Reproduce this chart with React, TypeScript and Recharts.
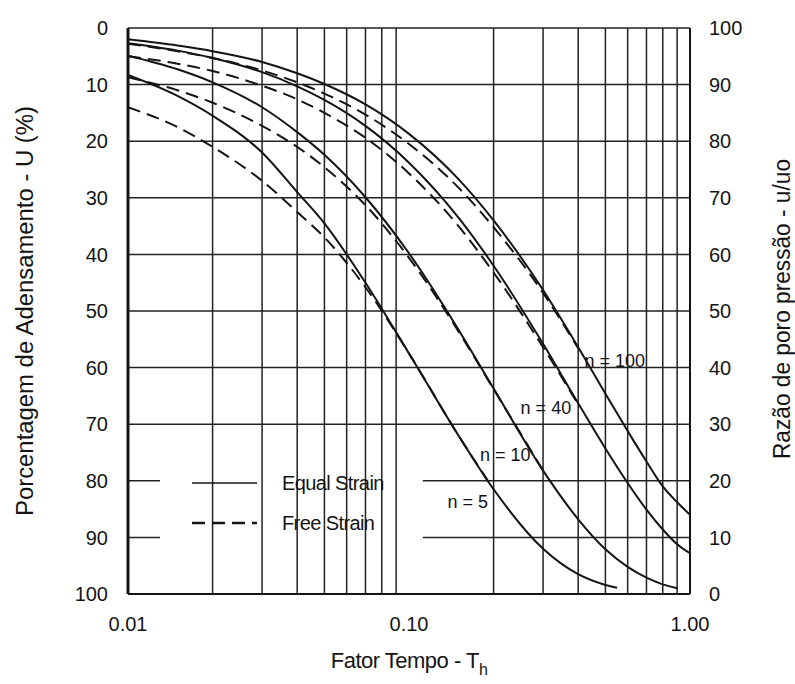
import React from "react";
import {
  LineChart,
  Line,
  XAxis,
  YAxis,
  CartesianGrid,
  ReferenceLine,
  ReferenceArea,
  ReferenceDot,
  Legend,
} from "recharts";

// time factor Th (log axis)
const TIME = [0.01, 0.015, 0.02, 0.03, 0.04, 0.05, 0.07, 0.1, 0.15, 0.2, 0.3, 0.4, 0.5, 0.6, 0.7, 0.8, 0.9, 1.0];
const TIME_N5 = [0.01, 0.015, 0.02, 0.03, 0.04, 0.05, 0.07, 0.1, 0.15, 0.2, 0.3, 0.4, 0.5, 0.55];

// degree of consolidation U (%)
const equalN100 = [2, 3.1, 4.1, 6.0, 8.0, 9.9, 13.5, 18.7, 26.7, 34, 46.3, 56.4, 64.6, 71.2, 76.6, 81, 83.8, 86];
const equalN40 = [2.7, 4.0, 5.3, 7.8, 10.3, 12.7, 17.3, 23.8, 33.5, 42, 55.8, 66.3, 74.3, 80.4, 85.1, 88.6, 91.2, 92.8];
const equalN10 = [4.9, 7.3, 9.6, 14, 18.4, 22.4, 29.9, 39.8, 53.3, 63.7, 78.2, 86.8, 92.1, 95.2, 97.1, 98.3, 99];
const equalN5 = [8.3, 12, 15.5, 22, 29, 34.5, 45, 57.5, 72, 81.5, 92, 96.5, 98.4, 98.9];

const freeN100 = [2.8, 4.1, 5.3, 7.5, 9.6, 11.6, 15.3, 20.5, 28.2, 35.2, 46.8, 56.6];
const freeN40 = [5, 6.3, 7.6, 10.2, 12.6, 15, 19.4, 25.7, 35, 43.2, 56.4, 66.5];
const freeN10 = [8.7, 11, 13.2, 17.3, 21, 24.6, 31.3, 40.6, 53.6, 63.8, 78.2];
const freeN5 = [14, 17.5, 21, 27, 32.5, 37, 45.8, 57.5, 72, 81.5];

const X_TICKS = [0.01, 0.1, 1];
const X_GRID = [0.02, 0.03, 0.04, 0.05, 0.06, 0.07, 0.08, 0.09, 0.2, 0.3, 0.4, 0.5, 0.6, 0.7, 0.8, 0.9];
const Y_TICKS = [0, 10, 20, 30, 40, 50, 60, 70, 80, 90, 100];

const CURVE_LABELS = [
  { text: "n = 100", t: 0.54, u: 58.7 },
  { text: "n = 40", t: 0.307, u: 67.1 },
  { text: "n = 10", t: 0.22, u: 75.4 },
  { text: "n = 5", t: 0.162, u: 83.7 },
];

const LEGEND_ITEMS = [
  { label: "Equal Strain", dashed: false },
  { label: "Free Strain", dashed: true },
];

const toPoints = (times: number[], values: number[]) =>
  values.map((u, i) => ({ t: times[i], u }));

const SERIES = [
  { id: "eq100", data: toPoints(TIME, equalN100), dashed: false },
  { id: "eq40", data: toPoints(TIME, equalN40), dashed: false },
  { id: "eq10", data: toPoints(TIME, equalN10), dashed: false },
  { id: "eq5", data: toPoints(TIME_N5, equalN5), dashed: false },
  { id: "fr100", data: toPoints(TIME, freeN100), dashed: true },
  { id: "fr40", data: toPoints(TIME, freeN40), dashed: true },
  { id: "fr10", data: toPoints(TIME, freeN10), dashed: true },
  { id: "fr5", data: toPoints(TIME_N5, freeN5), dashed: true },
];

const INK = "#141414";
const FONT = "'Liberation Sans', Arial, sans-serif";
const DASH = "13 7";

function LegendBox() {
  return (
    <svg width={240} height={72} style={{ display: "block" }}>
      {LEGEND_ITEMS.map((it, i) => {
        const y = 17 + i * 40;
        return (
          <g key={it.label}>
            <line
              x1={7}
              x2={72}
              y1={y}
              y2={y}
              stroke={INK}
              strokeWidth={it.dashed ? 2.5 : 1.5}
              strokeDasharray={it.dashed ? DASH : undefined}
            />
            <text x={97} y={y + 7} fontSize={20} fontFamily={FONT} fill={INK} letterSpacing={-0.6}>
              {it.label}
            </text>
          </g>
        );
      })}
    </svg>
  );
}

function XTitle(props: any) {
  const vb = props.viewBox || {};
  const cx = vb.x + vb.width / 2;
  return (
    <text x={cx} y={vb.y + 74} textAnchor="middle" fontSize={22} fontFamily={FONT} fill={INK} letterSpacing={-0.5}>
      Fator Tempo - T
      <tspan dy={7} fontSize={16}>h</tspan>
    </text>
  );
}

function LeftTitle(props: any) {
  const vb = props.viewBox || {};
  const cy = vb.y + vb.height / 2;
  const x = 33;
  return (
    <text
      x={x}
      y={cy}
      transform={`rotate(-90 ${x} ${cy})`}
      textAnchor="middle"
      fontSize={23}
      fontFamily={FONT}
      fill={INK}
      textLength={410}
      lengthAdjust="spacingAndGlyphs"
    >
      Porcentagem de Adensamento - U (%)
    </text>
  );
}

function RightTitle(props: any) {
  const vb = props.viewBox || {};
  const cy = vb.y + vb.height / 2 - 2;
  const x = 790;
  return (
    <text
      x={x}
      y={cy}
      transform={`rotate(-90 ${x} ${cy})`}
      textAnchor="middle"
      fontSize={23}
      fontFamily={FONT}
      fill={INK}
      textLength={300}
      lengthAdjust="spacingAndGlyphs"
    >
      Razão de poro pressão - u/uo
    </text>
  );
}

export default function App() {
  const tickStyle = { fontSize: 20, fill: INK, fontFamily: FONT };
  return (
    <div style={{ position: "absolute", left: 0, top: 0, background: "#fff" }}>
      <LineChart width={795} height={684} margin={{ top: 28, right: 0, bottom: 0, left: 0 }}>
        <CartesianGrid yAxisId="left" vertical={false} stroke="#222" strokeWidth={1.5} />
        <XAxis
          dataKey="t"
          type="number"
          scale="log"
          domain={[0.01, 1]}
          ticks={X_TICKS}
          allowDataOverflow
          tickFormatter={(v: number) => v.toFixed(2)}
          tick={tickStyle}
          tickLine={false}
          tickSize={0}
          tickMargin={23}
          height={90}
          axisLine={{ stroke: INK, strokeWidth: 2 }}
          label={<XTitle />}
        />
        <YAxis
          yAxisId="left"
          type="number"
          domain={[0, 100]}
          reversed
          ticks={Y_TICKS}
          allowDataOverflow
          tick={tickStyle}
          tickLine={false}
          tickSize={0}
          tickMargin={20}
          width={128}
          axisLine={{ stroke: INK, strokeWidth: 3 }}
          label={<LeftTitle />}
        />
        <YAxis
          yAxisId="right"
          orientation="right"
          type="number"
          domain={[0, 100]}
          ticks={Y_TICKS}
          allowDataOverflow
          tick={tickStyle}
          tickLine={false}
          tickSize={0}
          tickMargin={19}
          width={105}
          axisLine={{ stroke: INK, strokeWidth: 2 }}
          label={<RightTitle />}
        />
        {X_GRID.map((t) => (
          <ReferenceLine key={t} x={t} yAxisId="left" stroke="#222" strokeWidth={1.5} />
        ))}
        <ReferenceArea
          yAxisId="left"
          x1={0.013}
          x2={0.112}
          y1={73}
          y2={95.5}
          fill="#fff"
          fillOpacity={1}
          stroke="none"
        />
        {SERIES.map((s) => (
          <Line
            key={s.id}
            yAxisId="left"
            data={s.data}
            dataKey="u"
            type="monotone"
            stroke={INK}
            strokeWidth={2}
            strokeDasharray={s.dashed ? DASH : undefined}
            dot={false}
            activeDot={false}
            legendType="none"
            isAnimationActive={false}
          />
        ))}
        {CURVE_LABELS.map((c) => (
          <ReferenceDot
            key={c.text}
            yAxisId="left"
            x={c.t}
            y={c.u}
            r={0}
            fill="none"
            stroke="none"
            label={{ value: c.text, position: "center", fontSize: 18, fill: INK, fontFamily: FONT }}
          />
        ))}
        <Legend
          layout="horizontal"
          verticalAlign="middle"
          align="center"
          wrapperStyle={{ left: 185, top: 466, width: 240, height: 72 }}
          content={<LegendBox />}
        />
      </LineChart>
    </div>
  );
}
